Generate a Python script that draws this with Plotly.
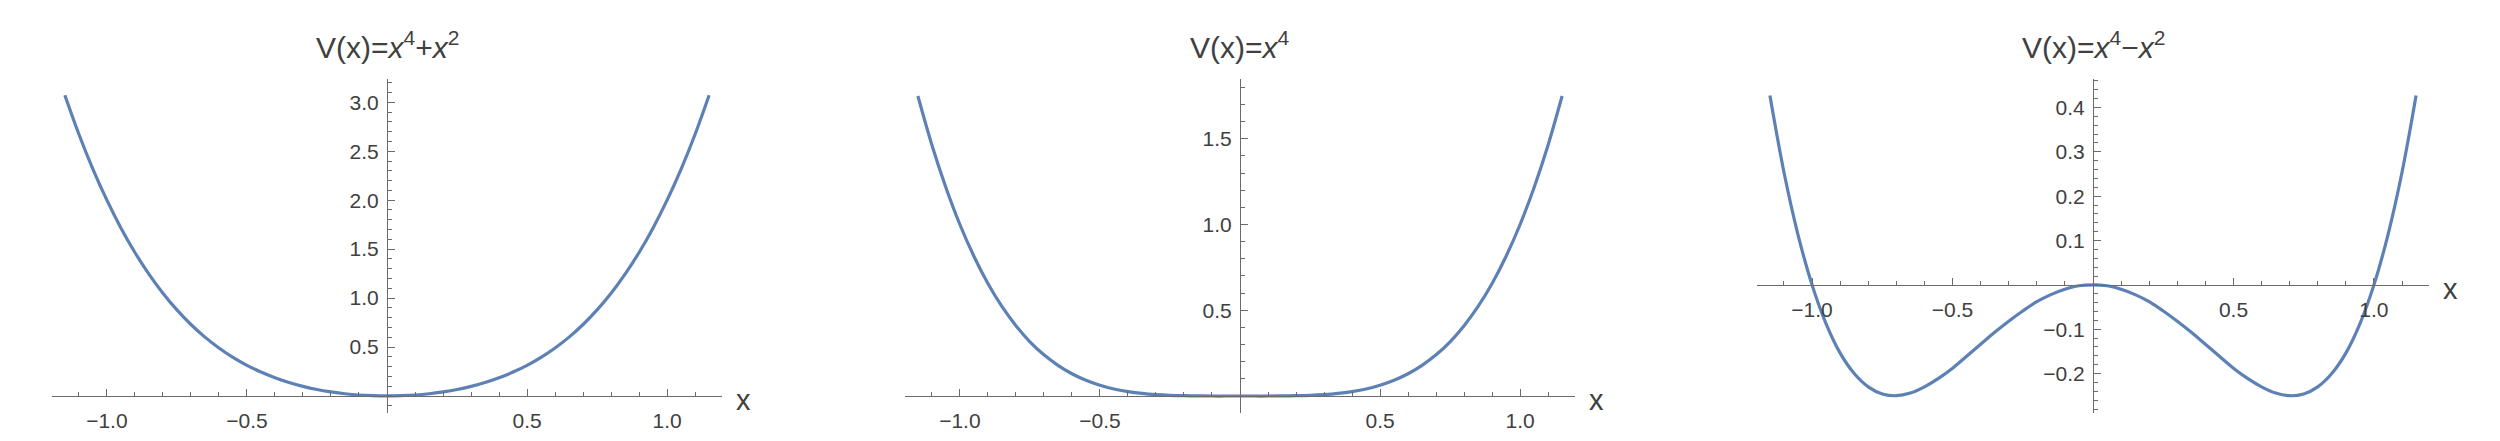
import plotly.graph_objects as go

# sample positions along x
x_vals = [-1.15, -1.10, -1.05, -1.00, -0.95, -0.90, -0.85, -0.80, -0.75, -0.70, -0.65, -0.60,
          -0.55, -0.50, -0.45, -0.40, -0.35, -0.30, -0.25, -0.20, -0.15, -0.10, -0.05, 0.00,
          0.05, 0.10, 0.15, 0.20, 0.25, 0.30, 0.35, 0.40, 0.45, 0.50, 0.55, 0.60,
          0.65, 0.70, 0.75, 0.80, 0.85, 0.90, 0.95, 1.00, 1.05, 1.10, 1.15]

# V(x)=x^4+x^2
v_quartic_plus = [3.072, 2.674, 2.318, 2.000, 1.717, 1.466, 1.245, 1.050, 0.879, 0.730, 0.601, 0.490,
                  0.394, 0.313, 0.244, 0.186, 0.138, 0.098, 0.066, 0.042, 0.023, 0.010, 0.003, 0.000,
                  0.003, 0.010, 0.023, 0.042, 0.066, 0.098, 0.138, 0.186, 0.244, 0.313, 0.394, 0.490,
                  0.601, 0.730, 0.879, 1.050, 1.245, 1.466, 1.717, 2.000, 2.318, 2.674, 3.072]

# V(x)=x^4
v_quartic = [1.749, 1.464, 1.216, 1.000, 0.815, 0.656, 0.522, 0.410, 0.316, 0.240, 0.179, 0.130,
             0.092, 0.063, 0.041, 0.026, 0.015, 0.008, 0.004, 0.002, 0.001, 0.000, 0.000, 0.000,
             0.000, 0.000, 0.001, 0.002, 0.004, 0.008, 0.015, 0.026, 0.041, 0.063, 0.092, 0.130,
             0.179, 0.240, 0.316, 0.410, 0.522, 0.656, 0.815, 1.000, 1.216, 1.464, 1.749]

# V(x)=x^4-x^2
v_double_well = [0.427, 0.254, 0.113, 0.000, -0.088, -0.154, -0.200, -0.230, -0.246, -0.250, -0.244, -0.230,
                 -0.211, -0.188, -0.161, -0.134, -0.107, -0.082, -0.059, -0.038, -0.022, -0.010, -0.002, 0.000,
                 -0.002, -0.010, -0.022, -0.038, -0.059, -0.082, -0.107, -0.134, -0.161, -0.188, -0.211, -0.230,
                 -0.244, -0.250, -0.246, -0.230, -0.200, -0.154, -0.088, 0.000, 0.113, 0.254, 0.427]

titles = ["V(x)=<i>x</i><sup>4</sup>+<i>x</i><sup>2</sup>",
          "V(x)=<i>x</i><sup>4</sup>",
          "V(x)=<i>x</i><sup>4</sup>\u2212<i>x</i><sup>2</sup>"]

x_ticks = [-1.0, -0.5, 0.5, 1.0]
x_tick_text = ["\u22121.0", "\u22120.5", "0.5", "1.0"]
y_ticks = [
    [0.5, 1.0, 1.5, 2.0, 2.5, 3.0],
    [0.5, 1.0, 1.5],
    [-0.2, -0.1, 0.1, 0.2, 0.3, 0.4],
]
y_tick_text = [
    ["0.5", "1.0", "1.5", "2.0", "2.5", "3.0"],
    ["0.5", "1.0", "1.5"],
    ["\u22120.2", "\u22120.1", "0.1", "0.2", "0.3", "0.4"],
]
y_minor_step = [0.1, 0.1, 0.02]

W, H = 2500, 441
x_range = [-1.196, 1.196]
y_ranges = [[-0.174, 3.241], [-0.099, 1.850], [-0.289, 0.465]]
x_domains = [[44 / W, 714 / W], [897 / W, 1567 / W], [1749 / W, 2421 / W]]
y_domain = [1 - 405 / H, 1 - 70.7 / H]

LINE = "#5E81B5"
AXIS = "#6b6b6b"
TEXT = "#404040"
FONT = "Liberation Sans, Arial, sans-serif"

fig = go.Figure()
series = [v_quartic_plus, v_quartic, v_double_well]

for i, ys in enumerate(series):
    n = "" if i == 0 else str(i + 1)
    fig.add_trace(go.Scatter(
        x=x_vals, y=ys, mode="lines", line=dict(color=LINE, width=3.2, shape="spline"),
        xaxis="x" + n, yaxis="y" + n, showlegend=False, hoverinfo="skip",
    ))

    y0, y1 = y_ranges[i]
    # put the x axis where y=0 and the y axis where x=0
    xpos_paper = y_domain[0] + (0 - y0) / (y1 - y0) * (y_domain[1] - y_domain[0])
    ypos_paper = (x_domains[i][0] + x_domains[i][1]) / 2

    common = dict(showgrid=False, zeroline=False, showline=True, linecolor=AXIS, linewidth=1,
                  ticks="inside", tickcolor=AXIS, tickwidth=1, ticklen=7,
                  tickfont=dict(family=FONT, size=21, color=TEXT))
    fig.layout["xaxis" + n] = dict(
        common, domain=x_domains[i], range=x_range, anchor="free", position=xpos_paper,
        tickmode="array", tickvals=x_ticks, ticktext=x_tick_text, ticklabelstandoff=6,
        minor=dict(dtick=0.1, tick0=0, ticks="inside", ticklen=4, tickcolor=AXIS, tickwidth=1),
    )
    fig.layout["yaxis" + n] = dict(
        common, domain=y_domain, range=y_ranges[i], anchor="free", position=ypos_paper,
        tickmode="array", tickvals=y_ticks[i], ticktext=y_tick_text[i], ticklabelstandoff=4,
        minor=dict(dtick=y_minor_step[i], tick0=0, ticks="inside", ticklen=4, tickcolor=AXIS, tickwidth=1),
    )

    # title over the y axis
    fig.add_annotation(
        text=titles[i], xref="x" + n, yref="paper", x=0, y=1 - 58 / H,
        xanchor="center", yanchor="bottom", showarrow=False,
        font=dict(family=FONT, size=30, color=TEXT),
    )
    # "x" label at the right end of the x axis
    fig.add_annotation(
        text="x", xref="x" + n, yref="y" + n, x=x_range[1], y=0,
        xanchor="left", yanchor="middle", xshift=12, yshift=-4, showarrow=False,
        font=dict(family=FONT, size=29, color=TEXT),
    )

fig.update_layout(
    width=W, height=H, margin=dict(l=0, r=0, t=0, b=0),
    paper_bgcolor="white", plot_bgcolor="white",
)

fig.write_html("out.html")
